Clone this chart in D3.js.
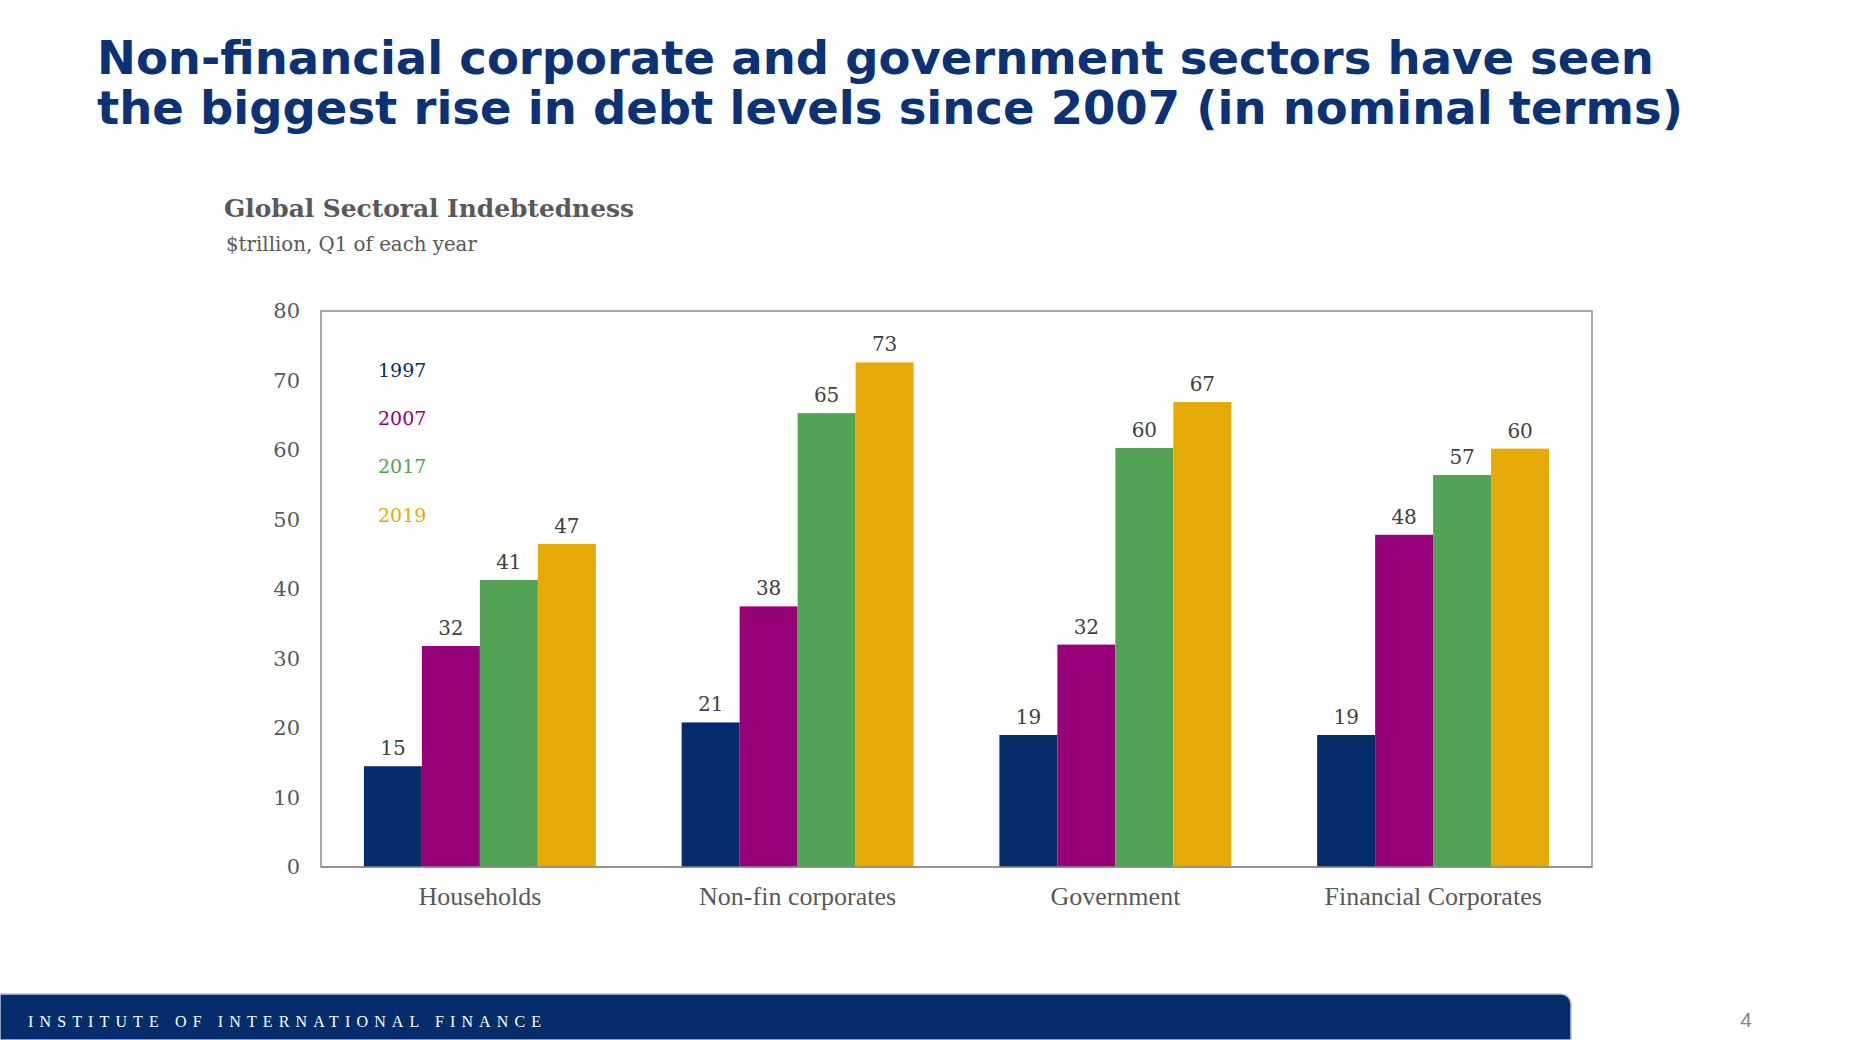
<!DOCTYPE html>
<html>
<head>
<meta charset="utf-8">
<script src="https://cdn.jsdelivr.net/npm/d3@7"></script>
<style>
  html, body { margin: 0; padding: 0; background: #fff; }
  svg { display: block; }
</style>
</head>
<body>
<svg id="chart" width="1855" height="1040"></svg>
<script>
// ---- data ----
const categories = ["Households", "Non-fin corporates", "Government", "Financial Corporates"];
const seriesNames = ["1997", "2007", "2017", "2019"];
const values1997 = [14.5, 20.8, 19.0, 19.0];
const values2007 = [31.8, 37.5, 32.0, 47.8];
const values2017 = [41.3, 65.3, 60.3, 56.4];
const values2019 = [46.5, 72.6, 66.9, 60.2];
const labels1997 = [15, 21, 19, 19];
const labels2007 = [32, 38, 32, 48];
const labels2017 = [41, 65, 60, 57];
const labels2019 = [47, 73, 67, 60];
const yTicks = [0, 10, 20, 30, 40, 50, 60, 70, 80];
const seriesColors = ["#052D6C", "#960078", "#53A355", "#E5AA06"];

const seriesValues = [values1997, values2007, values2017, values2019];
const seriesLabels = [labels1997, labels2007, labels2017, labels2019];

const svg = d3.select("#chart");
const serif = "'Liberation Serif', 'Times New Roman', serif";
const serifNum = "'DejaVu Serif', Georgia, serif";

function fitText(sel, baseSize, width) {
  sel.attr("font-size", baseSize);
  const len = sel.node().getComputedTextLength();
  const size = baseSize * width / len;
  sel.attr("font-size", size);
  return size;
}

// ---- page title ----
const titleLines = [
  "Non-financial corporate and government sectors have seen",
  "the biggest rise in debt levels since 2007 (in nominal terms)"
];
const titleG = svg.append("g");
const t1 = titleG.append("text").attr("x", 97).attr("y", 74)
  .attr("font-family", "'DejaVu Sans', Verdana, sans-serif").attr("font-weight", "bold")
  .attr("fill", "#0B3275").text(titleLines[0]);
const fs = fitText(t1, 50, 1557);
titleG.append("text").attr("x", 97).attr("y", 124)
  .attr("font-family", "'DejaVu Sans', Verdana, sans-serif").attr("font-weight", "bold")
  .attr("font-size", fs).attr("fill", "#0B3275").text(titleLines[1]);

// ---- chart title ----
const ct = svg.append("text").attr("x", 224).attr("y", 217)
  .attr("font-family", serifNum).attr("font-weight", "bold")
  .attr("fill", "#595959").text("Global Sectoral Indebtedness");
fitText(ct, 26, 410);
const st = svg.append("text").attr("x", 226).attr("y", 251)
  .attr("font-family", serifNum)
  .attr("fill", "#595959").text("$trillion, Q1 of each year");
fitText(st, 20, 251);

// ---- scales ----
const plot = { left: 321, right: 1592, top: 311, bottom: 867 };
const x0 = d3.scaleBand().domain(categories).range([plot.left, plot.right]).padding(0);
const bw = x0.bandwidth();
const x1 = d3.scaleBand().domain(seriesNames).range([bw * 0.135, bw * 0.865]).padding(0);
const y = d3.scaleLinear().domain([0, 80]).range([plot.bottom, plot.top]);

// frame
svg.append("rect").attr("x", plot.left).attr("y", plot.top)
  .attr("width", plot.right - plot.left).attr("height", plot.bottom - plot.top)
  .attr("fill", "none").attr("stroke", "#8c8c8c").attr("stroke-width", 1.5);

// y axis
const yAxis = d3.axisLeft(y).tickValues(yTicks).tickSize(0).tickPadding(21).tickFormat(d3.format("d"));
const yg = svg.append("g").attr("transform", `translate(${plot.left},0)`).call(yAxis);
yg.select(".domain").remove();
yg.selectAll("text").attr("font-family", serifNum).attr("font-size", 21).attr("fill", "#595959");

// x axis labels
const xAxis = d3.axisBottom(x0).tickSize(0).tickPadding(20);
const xg = svg.append("g").attr("transform", `translate(0,${plot.bottom})`).call(xAxis);
xg.select(".domain").remove();
xg.selectAll("text").attr("font-family", serif).attr("font-size", 26).attr("fill", "#595959");

// bars
const rows = [];
categories.forEach((c, i) => {
  seriesNames.forEach((s, j) => {
    rows.push({ cat: c, ser: s, j: j, v: seriesValues[j][i], lab: seriesLabels[j][i] });
  });
});

const barG = svg.append("g");
barG.selectAll("rect").data(rows).join("rect")
  .attr("x", d => x0(d.cat) + x1(d.ser))
  .attr("y", d => y(d.v))
  .attr("width", x1.bandwidth())
  .attr("height", d => y(0) - y(d.v))
  .attr("fill", d => seriesColors[d.j]);

barG.selectAll("text").data(rows).join("text")
  .attr("x", d => x0(d.cat) + x1(d.ser) + x1.bandwidth() / 2)
  .attr("y", d => y(d.v) - 11)
  .attr("text-anchor", "middle")
  .attr("font-family", serifNum).attr("font-size", 20).attr("fill", "#404040")
  .text(d => d.lab);

// bottom axis line on top of bars
svg.append("line").attr("x1", plot.left).attr("x2", plot.right)
  .attr("y1", plot.bottom).attr("y2", plot.bottom)
  .attr("stroke", "#8c8c8c").attr("stroke-width", 1.5);

// legend (text only)
const legY = d3.scaleBand().domain(seriesNames).range([346, 539]);
svg.append("g").selectAll("text").data(seriesNames).join("text")
  .attr("x", 378)
  .attr("y", d => legY(d) + legY.bandwidth() / 2)
  .attr("dy", "0.35em")
  .attr("font-family", serifNum).attr("font-size", 19)
  .attr("fill", (d, i) => seriesColors[i])
  .text(d => d);

// ---- footer ----
const footer = svg.append("g");
footer.append("path")
  .attr("d", "M0,994 H1561 A10,10 0 0 1 1571,1004 V1040 H0 Z")
  .attr("fill", "#052D6C").attr("stroke", "#b9c3d6").attr("stroke-width", 1.5);
footer.append("text").attr("x", 28).attr("y", 1027)
  .attr("font-family", serif).attr("font-size", 16).attr("fill", "#ffffff")
  .attr("textLength", 513).attr("lengthAdjust", "spacing")
  .text("INSTITUTE OF INTERNATIONAL FINANCE");
footer.append("text").attr("x", 1746).attr("y", 1027).attr("text-anchor", "middle")
  .attr("font-family", "'Liberation Sans', Arial, sans-serif").attr("font-size", 21)
  .attr("fill", "#8a8a8a").text("4");
</script>
</body>
</html>
